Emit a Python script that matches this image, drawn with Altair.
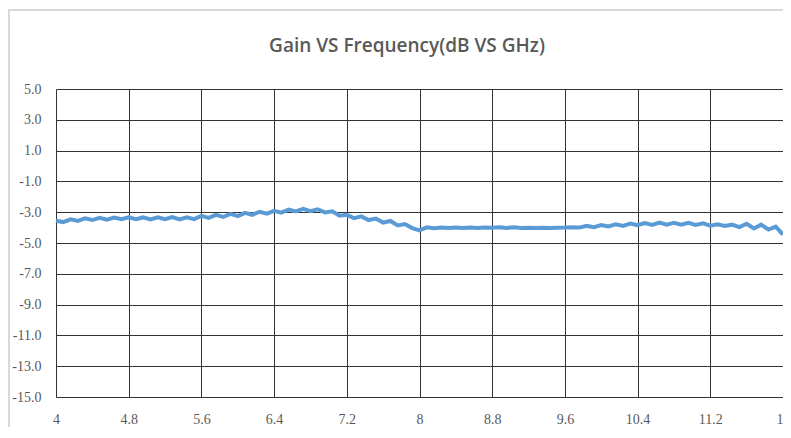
import altair as alt
import pandas as pd

freq_ghz = [4.00, 4.08, 4.16, 4.24, 4.32, 4.40, 4.48, 4.56, 4.64, 4.72,
            4.80, 4.88, 4.96, 5.04, 5.12, 5.20, 5.28, 5.36, 5.44, 5.52,
            5.60, 5.68, 5.76, 5.84, 5.92, 6.00, 6.08, 6.16, 6.24, 6.32,
            6.40, 6.48, 6.56, 6.64, 6.72, 6.80, 6.88, 6.96, 7.04, 7.12,
            7.20, 7.28, 7.36, 7.44, 7.52, 7.60, 7.68, 7.76, 7.84, 7.92,
            8.00, 8.08, 8.16, 8.24, 8.32, 8.40, 8.48, 8.56, 8.64, 8.72,
            8.80, 8.88, 8.96, 9.04, 9.12, 9.20, 9.28, 9.36, 9.44, 9.52,
            9.60, 9.68, 9.76, 9.84, 9.92, 10.00, 10.08, 10.16, 10.24, 10.32,
            10.40, 10.48, 10.56, 10.64, 10.72, 10.80, 10.88, 10.96, 11.04, 11.12,
            11.20, 11.28, 11.36, 11.44, 11.52, 11.60, 11.68, 11.76, 11.84, 11.92,
            12.00]

gain_db = [-3.55, -3.64, -3.46, -3.57, -3.40, -3.51, -3.37, -3.48, -3.35, -3.46,
           -3.33, -3.45, -3.34, -3.47, -3.33, -3.46, -3.32, -3.47, -3.33, -3.45,
           -3.24, -3.37, -3.17, -3.31, -3.11, -3.25, -3.04, -3.17, -2.97, -3.09,
           -2.91, -3.03, -2.83, -2.95, -2.79, -2.94, -2.81, -3.01, -2.94, -3.23,
           -3.17, -3.39, -3.27, -3.51, -3.41, -3.67, -3.57, -3.86, -3.77, -4.03,
           -4.18, -3.98, -4.04, -3.99, -4.03, -3.99, -4.02, -4.00, -4.03, -3.99,
           -4.01, -3.97, -4.02, -3.98, -4.02, -4.01, -4.02, -4.01, -4.02, -4.01,
           -4.00, -3.97, -4.00, -3.89, -3.97, -3.83, -3.93, -3.79, -3.89, -3.74,
           -3.85, -3.71, -3.83, -3.68, -3.81, -3.69, -3.81, -3.69, -3.83, -3.72,
           -3.87, -3.79, -3.89, -3.81, -3.97, -3.75, -4.06, -3.81, -4.13, -3.94,
           -4.45]

x_ticks = [4, 4.8, 5.6, 6.4, 7.2, 8, 8.8, 9.6, 10.4, 11.2, 12]
y_ticks = [-15, -13, -11, -9, -7, -5, -3, -1, 1, 3, 5]
chart_title = ["Gain VS Frequency(dB VS GHz)"]

df = pd.DataFrame({"freq": freq_ghz, "gain": gain_db})
title_df = pd.DataFrame({"t": chart_title})

label_color = "#595959"
grid_color = "#333333"

x_enc = alt.X("freq:Q", title=None,
              scale=alt.Scale(domain=[4, 12], nice=False, zero=False),
              axis=alt.Axis(values=x_ticks, format=".2~f", grid=True,
                            gridColor=grid_color, gridWidth=1, domain=False,
                            ticks=False, labelPadding=15, labelFontSize=14,
                            labelColor=label_color, labelFont="Liberation Sans Narrow",
                            labelFlush=False))
y_enc = alt.Y("gain:Q", title=None,
              scale=alt.Scale(domain=[-15, 5], nice=False, zero=False),
              axis=alt.Axis(values=y_ticks, grid=True, gridColor=grid_color,
                            gridWidth=1, domain=False, ticks=False, labelPadding=15,
                            labelFontSize=14, labelColor=label_color,
                            labelFont="Liberation Sans Narrow",
                            labelExpr="datum.value < 0 ? '-' + format(-datum.value, '.1f') : format(datum.value, '.1f')"))

line = alt.Chart(df).mark_line(color="#5B9BD5", strokeWidth=4).encode(x=x_enc, y=y_enc)

title_mark = alt.Chart(title_df).mark_text(
    fontSize=19, font="Open Sans", fontWeight=600, color=label_color,
    align="center", baseline="middle").encode(
    text="t:N", x=alt.value(351), y=alt.value(-43))

border_top = alt.Chart(df).mark_rule(color="#d9d9d9", strokeWidth=1.5).encode(
    x=alt.value(-48), x2=alt.value(730), y=alt.value(-79))
border_left = alt.Chart(df).mark_rule(color="#d9d9d9", strokeWidth=1.5).encode(
    x=alt.value(-47), y=alt.value(-79), y2=alt.value(340))

chart = alt.layer(border_top, border_left, line, title_mark).properties(
    width=727, height=308,
    autosize=alt.AutoSizeParams(type="none"),
    padding={"left": 48, "top": 81, "right": 0, "bottom": 30},
).configure_view(stroke=None).configure(background="white")

chart.save("out.html", embed_options={"renderer": "svg", "actions": False})
